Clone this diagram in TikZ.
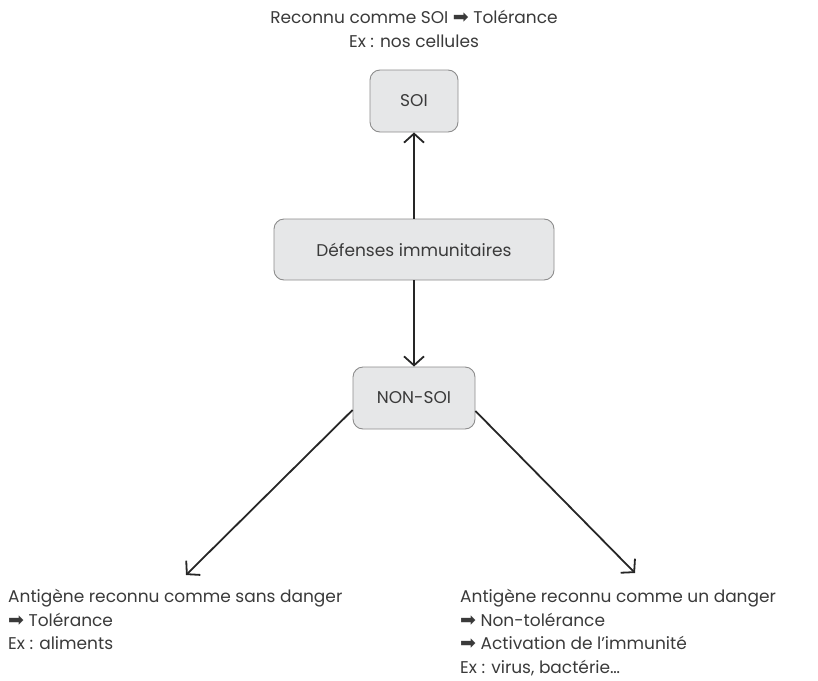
\documentclass[tikz,border=0pt]{standalone}
\usepackage{fontspec}
\setmainfont{Poppins}
\newfontfamily\symfont{DejaVu Sans}
\usepackage{xcolor}
\definecolor{boxfill}{HTML}{E6E7E8}
\definecolor{boxline}{HTML}{8C8C8C}
\definecolor{txt}{HTML}{3A3A3A}
\newcommand{\fleche}{{\symfont\fontsize{19}{19}\selectfont ➡}}
\usetikzlibrary{arrows.meta,positioning}

\begin{document}
\begin{tikzpicture}[
  x=1pt, y=-1pt, font=\fontsize{17}{23.5}\selectfont, text=txt,
  >={Straight Barb[length=9pt,width=20pt,line width=1.8pt]},
  box/.style={draw=boxline, fill=boxfill, line width=0.9pt, rounded corners=10pt, align=center},
  note/.style={align=left, inner sep=0pt, anchor=north west},
  link/.style={->, line width=1.8pt, black!85}]
\useasboundingbox (0,0) rectangle (818,680);
% ---- boxes
\node[box, minimum width=88pt, minimum height=62pt] (soi) at (414,101) {SOI};
\node[box, minimum width=280pt, minimum height=61pt] (def) at (414,249.5) {Défenses immunitaires};
\node[box, minimum width=122pt, minimum height=62pt] (nonsoi) at (414,398) {NON-SOI};
% ---- texts
\node[align=center, inner sep=0pt] (tsoi) at (414,29) {Reconnu comme SOI \fleche{} Tolérance\\Ex : nos cellules};
\node[note] (sans) at (8,589) {Antigène reconnu comme sans danger\\\fleche{} Tolérance\\Ex : aliments};
\node[note] (danger) at (460,589) {Antigène reconnu comme un danger\\\fleche{} Non-tolérance\\\fleche{} Activation de l’immunité\\Ex : virus, bactérie…};
\coordinate (tipL) at (186,575);
\coordinate (tipR) at (635,573);
% ---- arrows
\draw[link] (def) -- (soi);
\draw[link] (def) -- (nonsoi);
\draw[link] ([yshift=-12pt]nonsoi.west) -- (tipL);
\draw[link] ([yshift=-13pt]nonsoi.east) -- (tipR);
\end{tikzpicture}
\end{document}
